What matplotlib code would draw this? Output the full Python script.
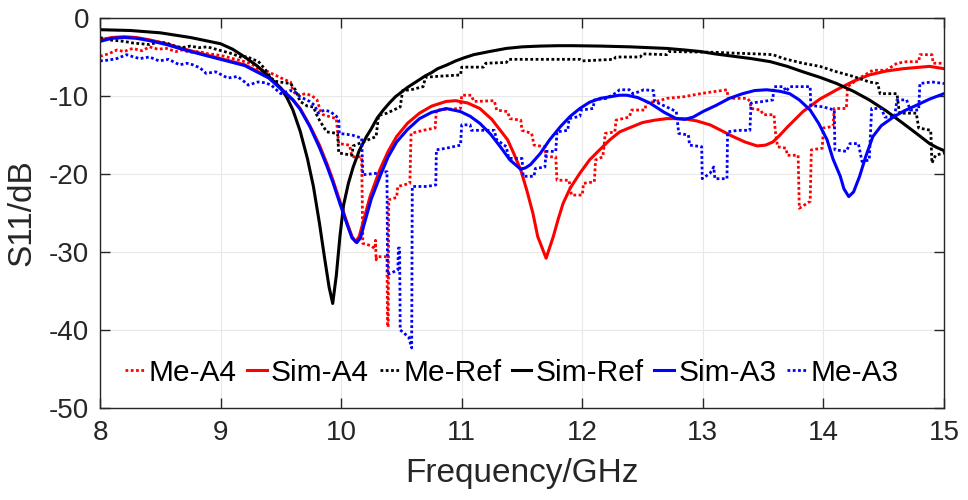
import matplotlib
matplotlib.use("Agg")
import matplotlib.pyplot as plt

plt.rcParams['font.family'] = ['Liberation Sans', 'DejaVu Sans']
plt.rcParams['axes.unicode_minus'] = False

# ---------------- data ----------------
# Sim-Ref (black solid)
simref_f = [8.0, 8.25, 8.5, 8.75, 9.0, 9.1, 9.2, 9.3, 9.4, 9.5, 9.55, 9.6, 9.66, 9.72, 9.77, 9.82,
            9.86, 9.90, 9.93, 9.96, 9.99, 10.02, 10.06, 10.10, 10.15, 10.21, 10.25, 10.3, 10.35,
            10.4, 10.45, 10.5, 10.55, 10.6, 10.65, 10.7, 10.75, 10.8, 10.88, 10.95, 11.02, 11.1,
            11.23, 11.37, 11.5, 11.65, 11.8, 11.92, 12.15, 12.4, 12.55, 12.7, 12.85, 12.98, 13.1,
            13.25, 13.4, 13.56, 13.7, 13.83, 13.97, 14.11, 14.25, 14.38, 14.52, 14.66, 14.78,
            14.88, 14.94, 15.0]
simref_s = [-1.5, -1.6, -1.9, -2.5, -3.3, -4.0, -5.0, -6.1, -7.5, -9.0, -10.2, -11.8, -14.5,
            -18.0, -21.6, -26.3, -30.5, -34.5, -36.6, -33.0, -28.0, -24.0, -21.2, -19.1, -17.0,
            -15.2, -14.2, -12.8, -11.8, -10.9, -10.1, -9.5, -8.9, -8.4, -7.9, -7.4, -7.0, -6.5,
            -6.0, -5.5, -5.1, -4.7, -4.3, -3.9, -3.7, -3.6, -3.55, -3.55, -3.6, -3.7, -3.8,
            -3.9, -4.1, -4.3, -4.6, -4.9, -5.2, -5.6, -6.2, -6.9, -7.6, -8.4, -9.4, -10.5,
            -11.9, -13.5, -14.9, -16.1, -16.6, -17.0]

# Sim-A4 (red solid)
sima4_f = [8.0, 8.1, 8.2, 8.3, 8.41, 8.55, 8.68, 8.85, 9.0, 9.2, 9.4, 9.5, 9.6, 9.66, 9.74, 9.82,
           9.88, 9.93, 9.99, 10.05, 10.09, 10.12, 10.15, 10.18, 10.24, 10.32, 10.39, 10.46,
           10.55, 10.65, 10.75, 10.87, 10.95, 11.05, 11.15, 11.25, 11.32, 11.38, 11.43, 11.49,
           11.54, 11.59, 11.63, 11.70, 11.76, 11.8, 11.84, 11.9, 11.98, 12.06, 12.15, 12.23,
           12.31, 12.42, 12.5, 12.6, 12.70, 12.84, 12.95, 13.06, 13.15, 13.25, 13.35, 13.45,
           13.52, 13.58, 13.64, 13.7, 13.83, 13.97, 14.11, 14.25, 14.38, 14.52, 14.66, 14.88, 15.0]
sima4_s = [-2.8, -2.5, -2.4, -2.5, -2.8, -3.3, -3.9, -4.6, -5.2, -6.0, -7.6, -9.0, -10.5, -11.6,
           -13.8, -16.3, -18.6, -20.7, -23.5, -26.3, -28.0, -28.7, -28.0, -26.3, -22.9, -19.5,
           -17.1, -15.2, -13.5, -12.2, -11.3, -10.7, -10.6, -10.9, -11.6, -13.0, -14.4, -15.6,
           -17.3, -19.5, -22.1, -25.0, -28.0, -30.8, -28.0, -25.8, -23.8, -21.8, -19.9, -18.2,
           -16.8, -15.6, -14.6, -13.9, -13.4, -13.1, -12.9, -12.9, -13.2, -13.7, -14.4, -15.2,
           -15.9, -16.4, -16.3, -15.9, -15.0, -14.0, -12.0, -10.4, -9.2, -8.1, -7.3, -6.8, -6.5,
           -6.2, -6.5]

# Sim-A3 (blue solid)
sima3_f = [8.0, 8.1, 8.2, 8.3, 8.41, 8.55, 8.68, 8.85, 9.0, 9.2, 9.4, 9.5, 9.6, 9.66, 9.74, 9.82,
           9.88, 9.93, 9.99, 10.05, 10.09, 10.13, 10.16, 10.19, 10.25, 10.33, 10.39, 10.46, 10.55,
           10.65, 10.75, 10.87, 10.99, 11.07, 11.15, 11.24, 11.32, 11.4, 11.49, 11.53, 11.57,
           11.65, 11.73, 11.82, 11.9, 11.98, 12.06, 12.15, 12.31, 12.37, 12.46, 12.56, 12.68,
           12.78, 12.85, 12.92, 13.0, 13.11, 13.22, 13.33, 13.43, 13.53, 13.64, 13.72, 13.8, 13.89,
           13.96, 14.03, 14.08, 14.14, 14.17, 14.21, 14.25, 14.30, 14.35, 14.41, 14.48, 14.58,
           14.67, 14.77, 14.88, 15.0]
sima3_s = [-3.0, -2.6, -2.5, -2.6, -2.9, -3.4, -4.0, -4.7, -5.3, -6.1, -7.7, -9.1, -10.5, -11.7,
           -13.9, -16.6, -18.9, -21.0, -23.8, -26.5, -28.2, -28.8, -28.2, -26.5, -23.2, -20.0,
           -17.8, -15.9, -14.3, -12.9, -12.1, -11.6, -12.0, -12.6, -13.5, -14.9, -16.5, -18.2,
           -19.4, -19.2, -18.8, -17.4, -15.6, -13.9, -12.6, -11.6, -10.8, -10.3, -9.9, -9.9,
           -10.2, -10.9, -12.1, -12.9, -13.0, -12.7, -12.0, -11.2, -10.3, -9.7, -9.3, -9.2, -9.4,
           -9.7, -10.5, -11.8, -13.5, -15.6, -18.1, -20.3, -21.9, -22.9, -22.3, -20.3, -17.8,
           -15.2, -13.8, -12.7, -11.9, -11.2, -10.4, -9.7]

# Me-Ref (black dotted)
meref_f = [8.0, 8.07, 8.14, 8.2, 8.27, 8.34, 8.41, 8.48, 8.55, 8.62, 8.68, 8.75, 8.82, 8.89, 8.96,
           9.03, 9.10, 9.18, 9.22, 9.26, 9.31, 9.37, 9.42, 9.45, 9.53, 9.58, 9.62, 9.66, 9.72,
           9.77, 9.8, 9.82, 9.88, 9.97, 9.98, 10.09, 10.10, 10.18, 10.29, 10.31, 10.38, 10.49,
           10.51, 10.58, 10.68, 10.70, 10.78, 10.99, 11.0, 11.18, 11.2, 11.37, 11.39, 11.98, 12.0,
           12.26, 12.28, 12.48, 12.5, 12.7, 12.72, 13.11, 13.25, 13.45, 13.58, 13.67, 13.83, 13.97,
           14.11, 14.25, 14.38, 14.45, 14.47, 14.61, 14.63, 14.77, 14.79, 14.89, 14.90, 14.93, 15.0]
meref_s = [-2.5, -2.8, -2.9, -3.0, -3.2, -3.3, -3.4, -3.1, -3.2, -3.6, -3.8, -3.6, -3.8, -3.7, -4.0,
           -4.3, -4.6, -5.1, -4.9, -5.3, -5.5, -6.6, -7.7, -8.1, -8.3, -8.4, -9.2, -10.7, -11.3,
           -11.4, -12.5, -13.1, -14.6, -14.8, -17.3, -17.6, -16.4, -15.9, -15.2, -12.5, -12.2,
           -11.4, -9.3, -9.2, -8.8, -7.6, -7.5, -7.3, -6.3, -6.3, -5.8, -5.7, -5.3, -5.3, -5.5,
           -5.3, -5.0, -5.0, -4.6, -4.7, -4.3, -4.4, -4.5, -4.6, -4.7, -5.2, -5.8, -6.2, -6.9,
           -7.5, -8.2, -8.4, -9.7, -9.7, -12.2, -12.2, -14.1, -14.4, -18.6, -17.6, -17.3]

# Me-A4 (red dotted)
mea4_f = [8.0, 8.07, 8.14, 8.2, 8.27, 8.35, 8.41, 8.48, 8.55, 8.63, 8.68, 8.75, 8.82, 8.9, 8.96,
          9.03, 9.10, 9.2, 9.26, 9.31, 9.38, 9.45, 9.53, 9.58, 9.6, 9.63, 9.71, 9.76, 9.80, 9.83,
          9.85, 9.96, 9.98, 10.07, 10.09, 10.17, 10.18, 10.25, 10.28, 10.285, 10.29, 10.295,
          10.38, 10.385, 10.39, 10.395, 10.46, 10.47, 10.57, 10.58, 10.68, 10.78, 10.79, 10.99,
          11.0, 11.08, 11.1, 11.27, 11.29, 11.38, 11.40, 11.49, 11.5, 11.58, 11.6, 11.69, 11.7,
          11.78, 11.79, 11.89, 11.91, 12.0, 12.01, 12.1, 12.11, 12.17, 12.18, 12.19, 12.27, 12.28,
          12.39, 12.41, 12.52, 12.53, 12.64, 12.70, 12.84, 12.98, 13.11, 13.20, 13.21, 13.37,
          13.39, 13.4, 13.48, 13.5, 13.59, 13.6, 13.62, 13.69, 13.70, 13.79, 13.80, 13.89, 13.90,
          13.99, 14.0, 14.08, 14.09, 14.19, 14.20, 14.30, 14.41, 14.52, 14.61, 14.69, 14.79, 14.80,
          14.9, 14.91, 15.0]
mea4_s = [-4.9, -4.6, -4.1, -4.3, -3.9, -4.2, -3.7, -4.0, -3.9, -4.3, -4.1, -4.4, -4.3, -4.6, -4.7,
          -4.9, -5.2, -5.6, -5.9, -6.5, -6.8, -7.3, -7.9, -8.2, -9.3, -9.9, -9.7, -10.0, -10.5,
          -12.0, -12.4, -12.9, -16.1, -16.3, -17.8, -17.8, -28.9, -29.2, -29.6, -28.5, -31.0,
          -30.6, -30.6, -39.6, -39.6, -23.3, -23.0, -21.6, -21.2, -14.8, -14.4, -14.1, -11.8,
          -11.6, -9.9, -9.9, -10.7, -10.6, -11.8, -12.0, -12.9, -13.1, -14.4, -14.8, -16.3, -16.5,
          -17.8, -17.8, -20.8, -20.8, -22.7, -22.7, -21.2, -21.0, -18.2, -17.8, -16.5, -14.8,
          -14.6, -13.1, -12.7, -11.8, -11.8, -10.9, -10.6, -10.3, -10.1, -9.7, -9.4, -9.2, -10.3,
          -10.3, -10.7, -11.6, -11.8, -12.4, -12.4, -14.4, -16.5, -16.7, -17.6, -17.6, -24.4,
          -23.5, -16.9, -16.7, -14.1, -13.9, -11.6, -11.6, -8.8, -7.7, -6.7, -6.7, -5.8, -5.6,
          -5.6, -4.7, -4.7, -5.8, -5.8]

# Me-A3 (blue dotted)
mea3_f = [8.0, 8.07, 8.14, 8.22, 8.28, 8.33, 8.41, 8.49, 8.57, 8.62, 8.66, 8.72, 8.77, 8.83, 8.88,
          8.96, 9.01, 9.06, 9.14, 9.2, 9.23, 9.31, 9.37, 9.42, 9.47, 9.50, 9.58, 9.62, 9.66, 9.74,
          9.78, 9.81, 9.86, 9.91, 9.96, 9.98, 9.985, 10.09, 10.17, 10.18, 10.3, 10.38, 10.385,
          10.47, 10.475, 10.485, 10.49, 10.56, 10.585, 10.59, 10.71, 10.785, 10.79, 10.87, 10.99,
          11.0, 11.07, 11.08, 11.27, 11.29, 11.37, 11.39, 11.50, 11.51, 11.60, 11.61, 11.69, 11.70,
          11.78, 11.79, 11.88, 11.89, 11.98, 11.99, 12.09, 12.10, 12.20, 12.28, 12.31, 12.39,
          12.42, 12.48, 12.51, 12.59, 12.60, 12.70, 12.78, 12.80, 12.88, 12.89, 12.99, 12.995,
          13.06, 13.09, 13.10, 13.20, 13.205, 13.29, 13.39, 13.40, 13.50, 13.58, 13.59, 13.67,
          13.69, 13.72, 13.89, 13.895, 14.0, 14.09, 14.095, 14.19, 14.22, 14.29, 14.32, 14.38,
          14.40, 14.48, 14.51, 14.59, 14.61, 14.69, 14.72, 14.79, 14.80, 14.90, 15.0]
mea3_s = [-5.5, -5.4, -5.2, -4.7, -5.0, -5.2, -5.0, -5.5, -5.3, -5.7, -6.0, -5.8, -6.0, -6.4, -7.1,
          -6.9, -7.3, -7.7, -7.5, -8.2, -8.6, -8.2, -8.3, -8.6, -9.3, -9.7, -9.3, -9.5, -10.1,
          -10.7, -11.2, -12.2, -11.8, -12.0, -12.6, -13.1, -14.8, -15.0, -15.4, -20.1, -19.9,
          -19.7, -32.9, -32.3, -29.5, -29.5, -40.0, -40.9, -42.3, -21.6, -21.6, -21.4, -16.9,
          -16.7, -16.3, -13.7, -13.7, -14.4, -14.4, -15.6, -16.5, -18.0, -18.0, -20.3, -20.3,
          -19.3, -19.1, -17.1, -17.1, -14.6, -14.4, -12.9, -12.6, -11.8, -11.6, -10.5, -10.3,
          -9.6, -9.2, -9.2, -9.7, -9.4, -9.2, -9.3, -10.7, -11.4, -12.0, -14.8, -15.0, -16.3,
          -16.5, -20.6, -19.9, -19.1, -20.6, -20.6, -14.6, -14.4, -14.4, -10.9, -10.7, -10.5,
          -8.8, -8.8, -9.4, -8.8, -8.8, -11.2, -11.4, -11.8, -16.9, -17.1, -16.1, -16.1, -18.4,
          -18.2, -11.6, -11.6, -12.7, -12.7, -10.5, -10.5, -11.8, -11.8, -8.4, -8.2, -8.4]

xticks = [8, 9, 10, 11, 12, 13, 14, 15]
yticks = [0, -10, -20, -30, -40, -50]
labels = ['Me-A4', 'Sim-A4', 'Me-Ref', 'Sim-Ref', 'Sim-A3', 'Me-A3']

# ---------------- plot ----------------
fig = plt.figure(figsize=(9.68, 5.0), dpi=100)
ax = fig.add_axes([100 / 968, 92 / 500, 844 / 968, 390 / 500])

dot = (0, (1.0, 0.9))
lw = 2.2
ax.plot(mea4_f, mea4_s, color='#ff0000', lw=2.0, linestyle=dot, label=labels[0])
ax.plot(sima4_f, sima4_s, color='#ff0000', lw=lw, label=labels[1])
ax.plot(meref_f, meref_s, color='black', lw=2.0, linestyle=dot, label=labels[2])
ax.plot(simref_f, simref_s, color='black', lw=lw, label=labels[3])
ax.plot(sima3_f, sima3_s, color='#0000ff', lw=lw, label=labels[4])
ax.plot(mea3_f, mea3_s, color='#0000ff', lw=2.0, linestyle=dot, label=labels[5])

ax.set_xlim(8, 15)
ax.set_ylim(-50, 0)
ax.set_xticks(xticks)
ax.set_yticks(yticks)
ax.grid(True, color='#e8e8e8', lw=0.8)
ax.set_axisbelow(True)

tc = '#262626'
ax.tick_params(direction='in', length=7, width=1, top=True, right=True,
               labelsize=20, colors=tc)
ax.tick_params(axis='x', pad=9)
ax.tick_params(axis='y', pad=8)
for s in ax.spines.values():
    s.set_color(tc)
    s.set_linewidth(1.0)

ax.set_xlabel('Frequency/GHz', fontsize=24, color=tc, labelpad=8)
ax.set_ylabel('S11/dB', fontsize=24, color=tc, labelpad=8)

leg = ax.legend(loc='center', bbox_to_anchor=(0.488, 0.09), ncol=6, frameon=False,
                fontsize=21.5, handlelength=0.65, handletextpad=0.15, columnspacing=0.35,
                borderaxespad=0, borderpad=0)

fig.savefig('out.png', dpi=100)
